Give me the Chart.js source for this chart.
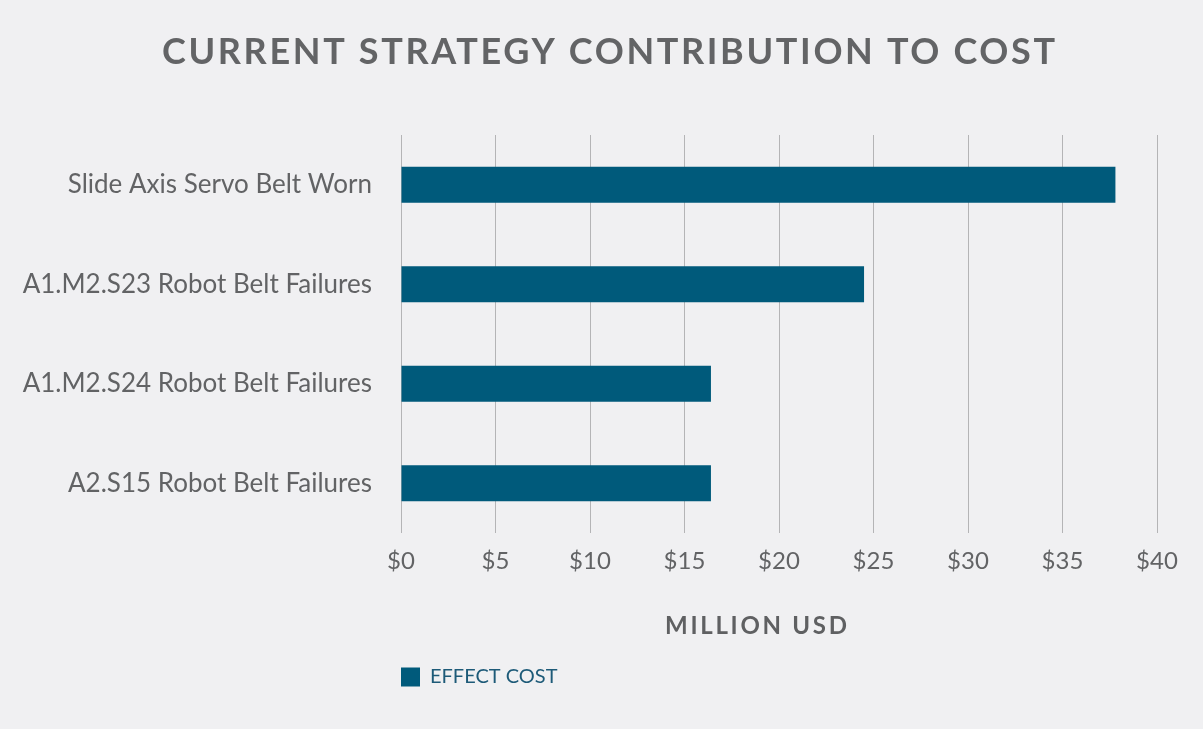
<!DOCTYPE html>
<html lang="en">
<head>
<meta charset="UTF-8" />
<title>Current Strategy Contribution to Cost</title>
<script src="https://cdn.jsdelivr.net/npm/chart.js@4.4.1/dist/chart.umd.min.js"></script>
<style>
	html, body { margin: 0; padding: 0; background: #f0f0f2; }
	canvas { display: block; }
</style>
</head>
<body>
<canvas id="myChart" width="1203" height="729"></canvas>
<script>
const categories = [
	"Slide Axis Servo Belt Worn",
	"A1.M2.S23 Robot Belt Failures",
	"A1.M2.S24 Robot Belt Failures",
	"A2.S15 Robot Belt Failures",
];
const effectCost = [37.8, 24.5, 16.4, 16.4]; // million USD
const xMin = 0;
const xMax = 40;
const xStep = 5;
const chartTitle = "CURRENT STRATEGY CONTRIBUTION TO COST";
const axisTitle = "MILLION USD";
const seriesName = "EFFECT COST";

const barColor = "#005a7b";
const textGray = "#626365";

// title + axis title need letter spacing, which Chart.js text can't do
const spacedText = {
	id: "spacedText",
	afterDraw(chart) {
		const ctx = chart.ctx;
		const draw = (text, font, color, left, width, baseline) => {
			ctx.save();
			ctx.font = font;
			ctx.fillStyle = color;
			ctx.textAlign = "left";
			ctx.textBaseline = "alphabetic";
			const natural = ctx.measureText(text).width;
			ctx.letterSpacing = (width - natural) / (text.length - 1) + "px";
			ctx.fillText(text, left, baseline);
			ctx.restore();
		};
		draw(chartTitle, "700 36px Lato", "#636466", 162, 893, 64);
		draw(axisTitle, "700 24px Lato", "#5f6062", 665, 182, 634);
	},
};

const ctx = document.getElementById("myChart").getContext("2d");

new Chart(ctx, {
	type: "bar",
	data: {
		labels: categories,
		datasets: [
			{
				label: seriesName,
				data: effectCost,
				backgroundColor: barColor,
				borderWidth: 0,
				barPercentage: 0.36,
				categoryPercentage: 1,
			},
		],
	},
	options: {
		indexAxis: "y",
		responsive: false,
		animation: false,
		devicePixelRatio: 1,
		layout: { padding: { top: 135, right: 46, bottom: 32, left: 0 } },
		plugins: {
			title: { display: false },
			tooltip: { enabled: false },
			legend: {
				position: "bottom",
				align: "start",
				fullSize: false,
				labels: {
					boxWidth: 19,
					boxHeight: 19,
					padding: 0,
					color: "#1d5a78",
					font: { family: "Lato", size: 20 },
				},
			},
		},
		scales: {
			x: {
				min: xMin,
				max: xMax,
				ticks: {
					stepSize: xStep,
					padding: 14,
					color: textGray,
					font: { family: "Lato", size: 24 },
					callback: (v) => "$" + v,
				},
				grid: { color: "#b4b4b6", drawTicks: false },
				border: { display: false },
				afterFit: (scale) => { scale.height = 134; },
			},
			y: {
				ticks: {
					padding: 29,
					color: textGray,
					font: { family: "Lato", size: 26 },
				},
				grid: { display: false, drawTicks: false },
				border: { display: false },
				afterFit: (scale) => { scale.width = 401; },
			},
		},
	},
	plugins: [spacedText],
});
</script>
</body>
</html>
